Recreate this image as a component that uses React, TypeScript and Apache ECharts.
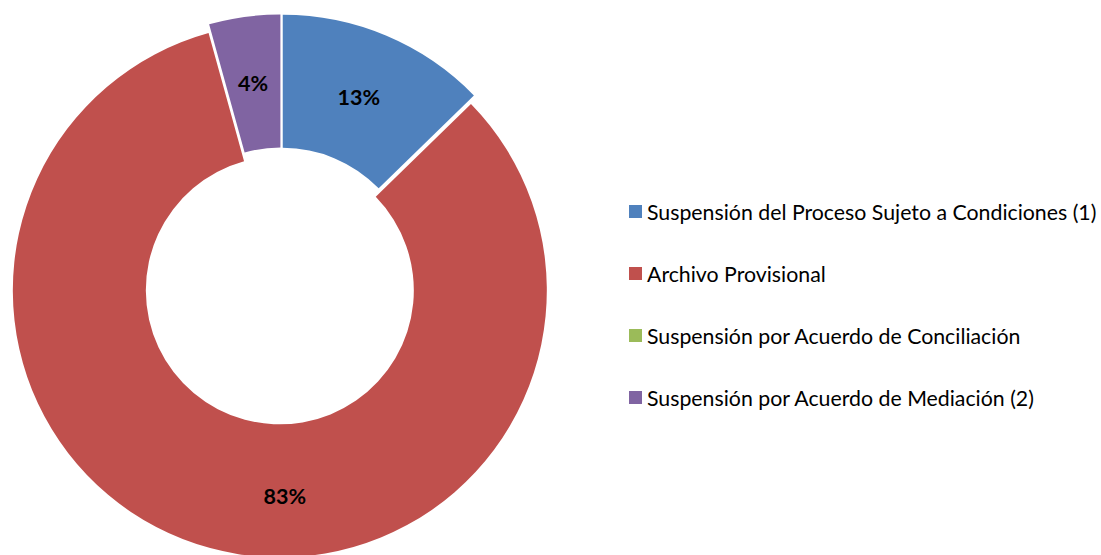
import React, { useEffect, useRef } from "react";
import * as echarts from "echarts";

const categories = [
  "Suspensión del Proceso Sujeto a Condiciones (1)",
  "Archivo Provisional",
  "Suspensión por Acuerdo de Conciliación",
  "Suspensión por Acuerdo de Mediación (2)",
];
const values = [12.7, 83.0, 0, 4.3];
const colors = ["#4F81BD", "#C0504D", "#9BBB59", "#8064A2"];

const FONT = "Lato, 'Noto Sans', sans-serif";

export default function App() {
  const ref = useRef<HTMLDivElement>(null);
  useEffect(() => {
    if (!ref.current) return;
    const chart = echarts.init(ref.current, null, { renderer: "svg" });
    const data = categories.map((name, i) => ({
      name,
      value: values[i],
      selected: true,
      itemStyle: { color: colors[i] },
      label: { show: values[i] > 0 },
    }));
    chart.setOption({
      animation: false,
      backgroundColor: "#ffffff",
      legend: {
        orient: "vertical",
        left: 624,
        top: 196,
        padding: 5,
        itemWidth: 13,
        itemHeight: 13,
        itemGap: 41,
        icon: "rect",
        selectedMode: false,
        data: categories,
        textStyle: {
          fontFamily: FONT,
          fontSize: 21.3,
          lineHeight: 21,
          color: "#000000",
        },
      },
      series: [
        {
          type: "pie",
          center: [281, 286],
          radius: [134, 267],
          startAngle: 90,
          clockwise: true,
          selectedMode: "multiple",
          selectedOffset: 4.5,
          avoidLabelOverlap: false,
          emphasis: { disabled: true },
          label: {
            show: true,
            position: "inside",
            fontFamily: FONT,
            fontWeight: "bold",
            fontSize: 21.5,
            color: "#000000",
            formatter: (p: any) => Math.round(p.percent) + "%",
          },
          labelLine: { show: false },
          labelLayout: (p: any) => {
            if (p.dataIndex === 0) return { dx: -3, dy: 3 };
            if (p.dataIndex === 1) return { dx: 58, dy: 9 };
            return { dx: 0, dy: 3 };
          },
          data,
        },
      ],
    });
    return () => chart.dispose();
  }, []);
  return (
    <div
      ref={ref}
      style={{ position: "fixed", left: 0, top: 0, width: 1101, height: 555 }}
    />
  );
}
